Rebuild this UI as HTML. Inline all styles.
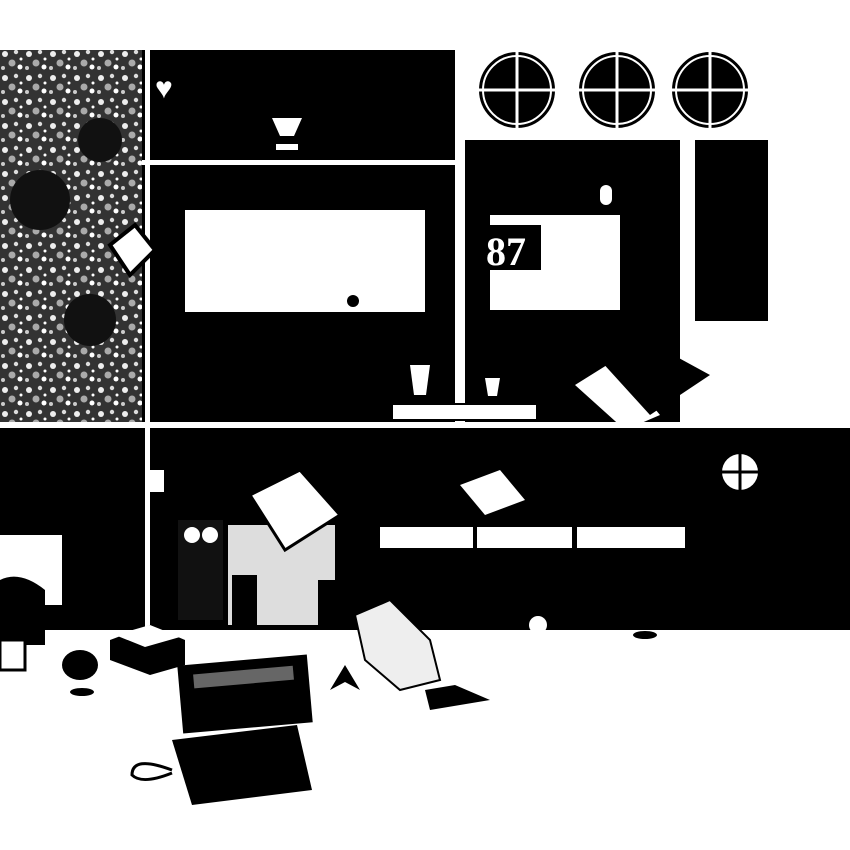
<!DOCTYPE html>
<html><head><meta charset="utf-8"><style>
html,body{margin:0;padding:0;background:#fff;width:850px;height:850px;overflow:hidden}
</style></head><body>
<svg width="850" height="850" viewBox="0 0 850 850" xmlns="http://www.w3.org/2000/svg">
<defs>
<pattern id="tex" width="24" height="24" patternUnits="userSpaceOnUse">
<rect width="24" height="24" fill="#333"/>
<circle cx="5" cy="6" r="3" fill="#eee"/><circle cx="16" cy="4" r="2.2" fill="#ddd"/>
<circle cx="12" cy="15" r="3.5" fill="#aaa"/><circle cx="20" cy="19" r="2.5" fill="#fff"/>
<circle cx="3" cy="20" r="2" fill="#ccc"/><circle cx="21" cy="11" r="1.5" fill="#fff"/>
</pattern>
</defs>
<rect width="850" height="850" fill="#fff"/>
<rect x="0" y="50" width="142" height="372" fill="url(#tex)"/>
<circle cx="40" cy="200" r="30" fill="#111"/><circle cx="90" cy="320" r="26" fill="#111"/>
<circle cx="100" cy="140" r="22" fill="#111"/>
<rect x="142" y="50" width="313" height="110" fill="#000"/>
<text x="155" y="98" font-family="Liberation Sans,sans-serif" font-size="30" fill="#fff">♥</text>
<path d="M272 118 h30 l-8 18 h-14z M276 150 h22 v-6 h-22z" fill="#fff"/>
<rect x="142" y="165" width="313" height="257" fill="#000"/>
<rect x="185" y="210" width="240" height="102" fill="#fff"/>
<circle cx="353" cy="301" r="6" fill="#000"/>
<rect x="145" y="50" width="5" height="575" fill="#fff"/>
<rect x="465" y="140" width="215" height="282" fill="#000"/>
<rect x="490" y="215" width="130" height="95" fill="#fff"/>
<rect x="483" y="225" width="58" height="45" fill="#000"/>
<text x="486" y="265" font-family="Liberation Serif,serif" font-weight="bold" font-size="40" fill="#fff">87</text>
<rect x="600" y="185" width="12" height="20" rx="6" fill="#fff"/>
<g fill="#000" stroke="#fff" stroke-width="2">
<circle cx="517" cy="90" r="39"/><circle cx="617" cy="90" r="39"/><circle cx="710" cy="90" r="39"/>
<circle cx="517" cy="90" r="34"/><circle cx="617" cy="90" r="34"/><circle cx="710" cy="90" r="34"/>
</g>
<g stroke="#fff" stroke-width="3">
<path d="M517 51 v78 M478 90 h78 M617 51 v78 M578 90 h78 M710 51 v78 M671 90 h78"/>
</g>
<rect x="695" y="140" width="73" height="165" fill="#000"/>
<rect x="695" y="305" width="73" height="16" fill="#000"/>
<rect x="392" y="404" width="145" height="16" fill="#fff" stroke="#000" stroke-width="2"/>
<path d="M410 365 h20 l-4 30 h-12z" fill="#fff"/>
<path d="M485 378 h15 l-3 18 h-9z" fill="#fff"/>
<path d="M575 385 l50 45 l35 -15 l-45 -55z" fill="#fff"/>
<path d="M600 360 l55 -15 l55 30 l-60 40z" fill="#000"/>
<path d="M110 245 l25 -20 l20 25 l-25 25z" fill="#fff" stroke="#000" stroke-width="4"/>
<rect x="0" y="428" width="850" height="202" fill="#000"/>
<rect x="0" y="535" width="62" height="70" fill="#fff"/>
<rect x="145" y="428" width="5" height="200" fill="#fff"/>
<rect x="380" y="527" width="93" height="21" fill="#fff"/>
<rect x="477" y="527" width="95" height="21" fill="#fff"/>
<rect x="577" y="527" width="108" height="21" fill="#fff"/>
<circle cx="740" cy="472" r="18" fill="#fff"/>
<path d="M740 454 v36 M722 472 h36" stroke="#000" stroke-width="3"/>
<rect x="150" y="470" width="14" height="22" fill="#fff"/>
<rect x="228" y="525" width="107" height="100" fill="#ddd"/>
<rect x="232" y="575" width="25" height="50" fill="#000"/>
<rect x="318" y="580" width="20" height="45" fill="#000"/>
<path d="M250 495 l50 -25 l40 45 l-55 35z" fill="#fff" stroke="#000" stroke-width="3"/>
<path d="M460 485 l40 -15 l25 30 l-40 15z" fill="#fff"/>
<rect x="178" y="520" width="45" height="100" fill="#111"/>
<circle cx="192" cy="535" r="8" fill="#fff"/><circle cx="210" cy="535" r="8" fill="#fff"/>
<path d="M0 580 q20 -10 45 10 v55 h-45z" fill="#000"/>
<rect x="0" y="640" width="25" height="30" fill="#fff" stroke="#000" stroke-width="3"/>
<path d="M110 640 l40 -15 l35 15 v25 l-35 10 l-40 -15z" fill="#000"/>
<path d="M115 635 l35 -10 l30 12 l-35 10z" fill="#fff"/>
<ellipse cx="80" cy="665" rx="18" ry="15" fill="#000"/>
<ellipse cx="82" cy="692" rx="12" ry="4" fill="#000"/>
<path d="M355 615 l35 -15 l40 40 l10 40 l-40 10 l-35 -30z" fill="#eee" stroke="#000" stroke-width="2"/>
<rect x="180" y="660" width="130" height="68" fill="#000" transform="rotate(-5 245 694)"/>
<rect x="195" y="670" width="100" height="14" fill="#666" transform="rotate(-5 245 694)"/>
<path d="M172 740 l125 -15 l15 65 l-120 15z" fill="#000"/>
<path d="M172 770 q-40 -15 -40 5 q10 10 40 -2" fill="none" stroke="#000" stroke-width="3"/>
<path d="M330 690 l15 -25 l15 25 l-15 -8z" fill="#000"/>
<path d="M425 690 l30 -5 l35 15 l-60 10z" fill="#000"/>
<circle cx="538" cy="625" r="9" fill="#fff"/>
<ellipse cx="645" cy="635" rx="12" ry="4" fill="#000"/>
</svg>
</body></html>
